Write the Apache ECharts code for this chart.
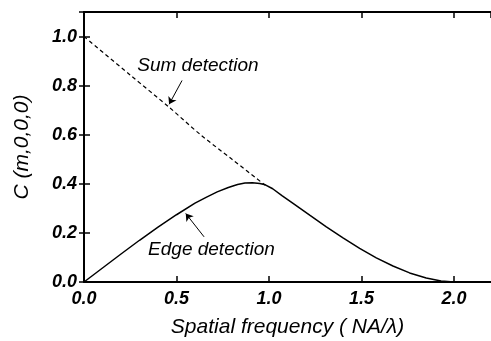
<!DOCTYPE html>
<html>
<head>
<meta charset="utf-8">
<script src="https://cdn.jsdelivr.net/npm/echarts@6/dist/echarts.min.js"></script>
<style>
html,body{margin:0;padding:0;background:#fff;}
#chart{width:491px;height:341px;}
</style>
</head>
<body>
<div id="chart"></div>
<script>
// Edge detection curve (solid)
var edgeX = [0, 0.1, 0.2, 0.3, 0.4, 0.5, 0.6, 0.66, 0.72, 0.78, 0.83, 0.87, 0.91, 0.95, 0.98, 1.02, 1.07, 1.13, 1.22, 1.31, 1.4, 1.49, 1.58, 1.67, 1.76, 1.85, 1.93, 2.0];
var edgeY = [0, 0.057, 0.114, 0.17, 0.224, 0.274, 0.321, 0.345, 0.367, 0.385, 0.397, 0.403, 0.404, 0.401, 0.396, 0.38, 0.352, 0.32, 0.272, 0.225, 0.18, 0.137, 0.098, 0.065, 0.037, 0.016, 0.004, 0];
// Sum detection curve (dashed)
var sumX = [0, 0.25, 0.46, 0.63, 0.8, 0.98];
var sumY = [1.0, 0.843, 0.712, 0.6, 0.5, 0.394];
// Annotation labels and arrows (data coordinates)
var labelTexts = ['Sum detection', 'Edge detection'];
var labelX = [0.616, 0.689];
var labelY = [0.882, 0.130];
var arrowFromX = [0.53, 0.649];
var arrowFromY = [0.821, 0.184];
var arrowToX = [0.46, 0.55];
var arrowToY = [0.724, 0.279];

function zip(a, b) { return a.map(function (v, i) { return [v, b[i]]; }); }

var chart = echarts.init(document.getElementById('chart'), null, {renderer: 'canvas'});
var font = 'Liberation Sans, Arial, Helvetica, sans-serif';
var tickLabel = {
  color: '#000', fontFamily: font, fontStyle: 'italic', fontWeight: 'bold', fontSize: 18,
  formatter: function (v) { return Math.abs(v - Math.round(v * 10) / 10) < 1e-9 ? v.toFixed(1) : ''; }
};

var option = {
  animation: false,
  backgroundColor: '#fff',
  grid: {left: 84, right: 0, top: 12, bottom: 59, containLabel: false, outerBoundsMode: 'none'},
  xAxis: [{
    type: 'value', min: 0, max: 2.2, interval: 0.5,
    name: 'Spatial frequency ( NA/\u03bb)', nameLocation: 'middle', nameGap: 35,
    nameTextStyle: {color: '#000', fontFamily: font, fontStyle: 'italic', fontSize: 21},
    axisLine: {show: true, onZero: false, lineStyle: {color: '#000', width: 2}},
    axisTick: {show: true, inside: true, length: 6, lineStyle: {color: '#000', width: 1.5}},
    axisLabel: Object.assign({margin: 8, showMaxLabel: false}, tickLabel),
    splitLine: {show: false}
  }, {
    type: 'value', position: 'top', min: 0, max: 2.2, interval: 0.5,
    axisLine: {show: true, onZero: false, lineStyle: {color: '#000', width: 2}},
    axisTick: {show: true, inside: true, length: 6, lineStyle: {color: '#000', width: 1.5}},
    axisLabel: {show: false}, splitLine: {show: false}
  }],
  yAxis: [{
    type: 'value', min: 0, max: 1.1, interval: 0.2,
    name: 'C (m,0,0,0)', nameLocation: 'middle', nameGap: 51,
    nameTextStyle: {color: '#000', fontFamily: font, fontStyle: 'italic', fontSize: 21},
    axisLine: {show: true, onZero: false, lineStyle: {color: '#000', width: 2}},
    axisTick: {show: true, inside: true, length: 6, lineStyle: {color: '#000', width: 1.5}},
    axisLabel: Object.assign({margin: 7, showMaxLabel: false}, tickLabel),
    splitLine: {show: false}
  }, {
    type: 'value', position: 'right', min: 0, max: 1.1, interval: 0.2,
    axisLine: {show: false},
    axisTick: {show: true, inside: true, length: 5, lineStyle: {color: '#000', width: 1.5}},
    axisLabel: {show: false}, splitLine: {show: false}
  }],
  series: [{
    type: 'line', name: 'Sum detection', data: zip(sumX, sumY),
    showSymbol: false, smooth: 0.3,
    lineStyle: {color: '#000', width: 1.2, type: [4, 3]}
  }, {
    type: 'line', name: 'Edge detection', data: zip(edgeX, edgeY),
    showSymbol: false, smooth: false,
    lineStyle: {color: '#000', width: 1.5},
    markLine: {
      silent: true, symbol: ['none', 'arrow'], symbolSize: 7,
      lineStyle: {color: '#000', width: 1, type: 'solid'},
      label: {show: false},
      data: arrowFromX.map(function (x, i) {
        return [{coord: [x, arrowFromY[i]]}, {coord: [arrowToX[i], arrowToY[i]]}];
      })
    }
  }, {
    type: 'scatter', data: labelX.map(function (x, i) { return [x, labelY[i], labelTexts[i]]; }),
    symbolSize: 0, itemStyle: {color: '#000', opacity: 1}, silent: true,
    label: {
      show: true, position: 'inside', color: '#000', opacity: 1, fontFamily: font, fontStyle: 'italic', fontSize: 19,
      formatter: function (p) { return p.value[2]; }
    }
  }]
};
chart.setOption(option);
</script>
</body>
</html>
